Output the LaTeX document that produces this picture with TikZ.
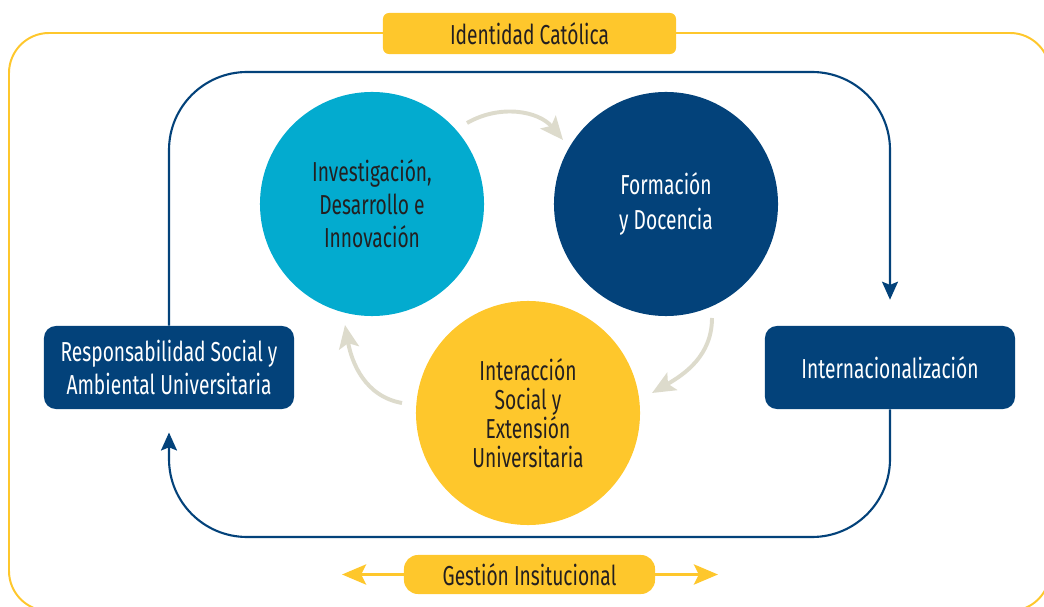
\documentclass[tikz,border=0pt]{standalone}
\usepackage{fontspec}
\setmainfont{Fira Sans}[FakeStretch=0.70]
\usetikzlibrary{arrows.meta,positioning}

\definecolor{uyellow}{HTML}{FEC72C}
\definecolor{ublue}{HTML}{03427A}
\definecolor{ucyan}{HTML}{03ABCF}
\definecolor{ugray}{HTML}{DDDBCC}
\definecolor{utext}{HTML}{231F20}

\begin{document}
\begin{tikzpicture}[x=0.025cm,y=0.025cm,
	boxtext/.style={font=\fontsize{19.5}{23.5}\selectfont},
	box/.style={boxtext,fill=ublue,text=white,rounded corners=0.3cm,minimum width=6.25cm,minimum height=2.075cm,align=center},
	tag/.style={boxtext,fill=uyellow,text=utext,align=center},
	disc/.style={boxtext,circle,minimum size=5.6cm,inner sep=0pt,align=center},
	loopline/.style={draw=ublue,line width=1.5pt,rounded corners=1.95cm,-{Stealth[length=0.45cm,width=0.4cm,inset=0.08cm]}},
	cyclearrow/.style={draw=ugray,line width=2.8pt,-{Stealth[length=0.58cm,width=0.5cm,inset=0.12cm]}},
	sidearrow/.style={draw=uyellow,line width=2.6pt,-{Stealth[length=0.6cm,width=0.5cm,inset=0.12cm]}}]
	\useasboundingbox (0,0) rectangle (1044,606);

	%outer frame
	\draw [uyellow,line width=1.4pt,rounded corners=1cm] (9,-5) rectangle (1050,573);

	%boxes
	\node [box] (resp) at (169,238.5) {Responsabilidad Social y\\Ambiental Universitaria};
	\node [box] (intern) at (890,238.5) {Internacionalización};

	%blue loop
	\draw [loopline,shorten >=0.65cm] (resp.north) -- (169,534) -- (890,534) -- (intern.north);
	\draw [loopline,shorten >=0.58cm] (intern.south) -- (890,69) -- (169,69) -- (resp.south);

	%circles
	\node [disc,fill=ucyan,text=utext] (idi) at (372,402) {Investigación,\\Desarrollo e\\Innovación};
	\node [disc,fill=ublue,text=white,font=\fontsize{19.5}{25}\selectfont] (fyd) at (666,402) {Formación\\y Docencia};
	\node [disc,fill=uyellow,text=utext,font=\fontsize{19.5}{20.5}\selectfont] (ise) at (528,193) {Interacción\\Social y\\Extensión\\Universitaria};

	%cycle arrows
	\coordinate (c1) at (467,483);
	\coordinate (c2) at (563,466);
	\coordinate (c3) at (712,288);
	\coordinate (c4) at (652,213);
	\coordinate (c5) at (402,203);
	\coordinate (c6) at (345,281);
	\draw [cyclearrow] (c1) to[bend left=40] (c2);
	\draw [cyclearrow] (c3) to[out=-90,in=30] (c4);
	\draw [cyclearrow] (c5) to[out=170,in=-80] (c6);

	%labels
	\node [tag,rounded corners=0.15cm,minimum width=7.325cm,minimum height=1.025cm] (ident) at (529.5,572.5) {Identidad Católica};
	\node [tag,rounded corners=0.35cm,minimum width=6.275cm,minimum height=0.975cm] (gest) at (529.5,31.5) {Gestión Insitucional};
	\coordinate (gl) at (342,31.5);
	\coordinate (gr) at (718,31.5);
	\draw [sidearrow] (gest.west) -- (gl);
	\draw [sidearrow] (gest.east) -- (gr);
\end{tikzpicture}
\end{document}
